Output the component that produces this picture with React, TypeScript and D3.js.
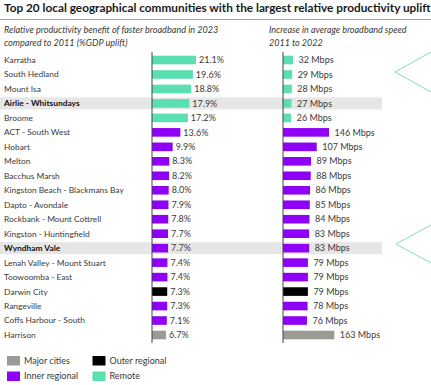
import React from "react";
import * as d3 from "d3";

const categories = [
  "Karratha", "South Hedland", "Mount Isa", "Airlie - Whitsundays", "Broome",
  "ACT - South West", "Hobart", "Melton", "Bacchus Marsh", "Kingston Beach - Blackmans Bay",
  "Dapto - Avondale", "Rockbank - Mount Cottrell", "Kingston - Huntingfield", "Wyndham Vale",
  "Lenah Valley - Mount Stuart", "Toowoomba - East", "Darwin City", "Rangeville",
  "Coffs Harbour - South", "Harrison",
];
const uplift = [21.1, 19.6, 18.8, 17.9, 17.2, 13.6, 9.9, 8.3, 8.2, 8.0, 7.9, 7.8, 7.7, 7.7, 7.4, 7.4, 7.3, 7.3, 7.1, 6.7];
const speed = [32, 29, 28, 27, 26, 146, 107, 89, 88, 86, 85, 84, 83, 83, 79, 79, 79, 78, 76, 163];
const regionType = [
  "Remote", "Remote", "Remote", "Remote", "Remote",
  "Inner regional", "Inner regional", "Inner regional", "Inner regional", "Inner regional",
  "Inner regional", "Inner regional", "Inner regional", "Inner regional", "Inner regional",
  "Inner regional", "Outer regional", "Inner regional", "Inner regional", "Major cities",
];
const highlighted = ["Airlie - Whitsundays", "Wyndham Vale"];
const legendItems = ["Major cities", "Outer regional", "Inner regional", "Remote"];
const colorRange = ["#9b9a94", "#000000", "#8f00f7", "#5ae0b0"];

const FONT = "Lato, 'Open Sans', sans-serif";

export default function App() {
  const W = 431, H = 385;
  const y = d3.scalePoint<string>().domain(categories).range([60, 335]);
  const xL = d3.scaleLinear().domain([0, 21.1]).range([152, 196]);
  const xR = d3.scaleLinear().domain([0, 146]).range([283, 329]);
  const color = d3.scaleOrdinal<string, string>().domain(legendItems).range(colorRange);
  const barH = 8.6;
  const textCol = "#3a3a3a";

  return (
    <svg width={W} height={H} style={{ position: "absolute", left: 0, top: 0, background: "#fff" }} fontFamily={FONT}>
      <rect x={0} y={0} width={W} height={H} fill="#fff" />
      {/* title */}
      <text x={4} y={11.5} fontSize={11.8} fontWeight={700} fill="#1a1a1a">
        Top 20 local geographical communities with the largest relative productivity uplift
      </text>
      <line x1={0} x2={W} y1={19.5} y2={19.5} stroke="#b58ccc" strokeWidth={1} />
      {/* subtitles */}
      <text x={4} y={33} fontSize={9.1} fontStyle="italic" fill={textCol}>
        <tspan x={4}>Relative productivity benefit of faster broadband in 2023</tspan>
        <tspan x={4} dy={12.5}>compared to 2011 (%GDP uplift)</tspan>
      </text>
      <text x={269} y={33} fontSize={9} fontStyle="italic" fill={textCol}>
        <tspan x={269}>Increase in average broadband speed</tspan>
        <tspan x={269} dy={12.5}>2011 to 2022</tspan>
      </text>
      {/* highlight rows */}
      {highlighted.map((c) => (
        <rect key={c} x={0} y={(y(c) as number) - 6} width={382} height={12} fill="#e6e6e6" />
      ))}
      {/* decorative chevrons */}
      <polyline points="431,52 395,72 431,92" fill="none" stroke="#7fdcc0" strokeWidth={1} />
      <polyline points="431,225 396,244 431,263" fill="none" stroke="#7fdcc0" strokeWidth={1} />
      {/* rows */}
      {categories.map((c, i) => {
        const cy = y(c) as number;
        const bold = highlighted.includes(c);
        const col = color(regionType[i]);
        return (
          <g key={c}>
            <text x={4} y={cy} dy="0.35em" fontSize={8.4} fontWeight={bold ? 700 : 400} fill={bold ? "#111" : textCol}>
              {c}
            </text>
            <rect x={xL(0)} y={cy - barH / 2} width={xL(uplift[i]) - xL(0)} height={barH} fill={col} />
            <text x={xL(uplift[i]) + 3} y={cy} dy="0.35em" fontSize={9} fill={textCol}>
              {uplift[i].toFixed(1)}%
            </text>
            <rect x={xR(0)} y={cy - barH / 2} width={xR(speed[i]) - xR(0)} height={barH} fill={col} />
            <text x={xR(speed[i]) + 5.5} y={cy} dy="0.35em" fontSize={9} fill={textCol}>
              {speed[i]} Mbps
            </text>
          </g>
        );
      })}
      {/* axis lines */}
      <line x1={152} x2={152} y1={52} y2={343} stroke="#444" strokeWidth={1} />
      <line x1={283} x2={283} y1={52} y2={343} stroke="#444" strokeWidth={1} />
      {/* legend */}
      {legendItems.map((l, i) => {
        const col = i % 2;
        const row = Math.floor(i / 2);
        const lx = col === 0 ? 7 : 92.5;
        const ly = 356 + row * 15.5;
        return (
          <g key={l}>
            <rect x={lx} y={ly} width={13} height={9.5} fill={color(l)} />
            <text x={lx + 17} y={ly + 4.8} dy="0.35em" fontSize={9} fill={textCol}>{l}</text>
          </g>
        );
      })}
    </svg>
  );
}
